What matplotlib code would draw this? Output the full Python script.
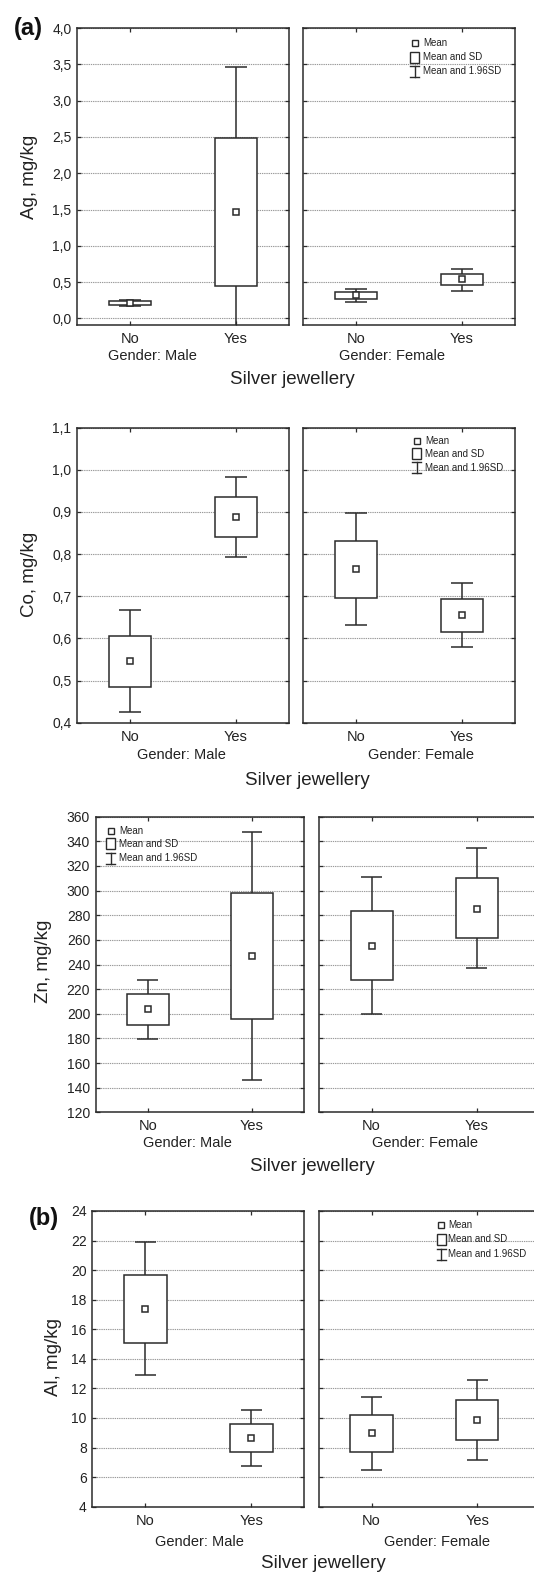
import matplotlib
matplotlib.use('Agg')
import matplotlib.pyplot as plt
from matplotlib.patches import Rectangle

plt.rcParams['font.family'] = ['Liberation Sans', 'DejaVu Sans']

W, H, DPI = 534, 1572, 100

groups = ['No', 'Yes']
genders = ['Gender: Male', 'Gender: Female']
xlabel = 'Silver jewellery'
legend_labels = ['Mean', 'Mean and SD', 'Mean and 1.96SD']

# ---- Ag, mg/kg  (rows: Male, Female; cols: No, Yes)
ag_mean = [[0.216, 1.463], [0.317, 0.537]]
ag_sd_lo = [[0.183, 0.445], [0.271, 0.454]]
ag_sd_hi = [[0.243, 2.486], [0.367, 0.606]]
ag_ci_lo = [[0.170, -0.54], [0.225, 0.381]]
ag_ci_hi = [[0.260, 3.463], [0.408, 0.683]]
ag_ticks = [0.0, 0.5, 1.0, 1.5, 2.0, 2.5, 3.0, 3.5, 4.0]
ag_ticklabels = ['0,0', '0,5', '1,0', '1,5', '2,0', '2,5', '3,0', '3,5', '4,0']

# ---- Co, mg/kg
co_mean = [[0.546, 0.887], [0.765, 0.655]]
co_sd_lo = [[0.485, 0.840], [0.697, 0.616]]
co_sd_hi = [[0.606, 0.936], [0.832, 0.693]]
co_ci_lo = [[0.425, 0.794], [0.631, 0.579]]
co_ci_hi = [[0.667, 0.983], [0.898, 0.731]]
co_ticks = [0.4, 0.5, 0.6, 0.7, 0.8, 0.9, 1.0, 1.1]
co_ticklabels = ['0,4', '0,5', '0,6', '0,7', '0,8', '0,9', '1,0', '1,1']

# ---- Zn, mg/kg
zn_mean = [[203.9, 247.2], [255.0, 285.3]]
zn_sd_lo = [[190.9, 195.8], [227.2, 261.2]]
zn_sd_hi = [[215.8, 298.3], [283.7, 310.5]]
zn_ci_lo = [[179.3, 146.3], [199.8, 237.4]]
zn_ci_hi = [[227.7, 347.8], [311.0, 334.3]]
zn_ticks = [120, 140, 160, 180, 200, 220, 240, 260, 280, 300, 320, 340, 360]
zn_ticklabels = [str(t) for t in zn_ticks]

# ---- Al, mg/kg
al_mean = [[17.39, 8.62], [8.98, 9.88]]
al_sd_lo = [[15.09, 7.68], [7.68, 8.49]]
al_sd_hi = [[19.69, 9.62], [10.18, 11.24]]
al_ci_lo = [[12.88, 6.75], [6.48, 7.13]]
al_ci_hi = [[21.93, 10.56], [11.40, 12.59]]
al_ticks = [4, 6, 8, 10, 12, 14, 16, 18, 20, 22, 24]
al_ticklabels = [str(t) for t in al_ticks]

EC = '#2b2b2b'
TC = '#222222'

fig = plt.figure(figsize=(W / DPI, H / DPI), dpi=DPI)
fig.patch.set_facecolor('white')


def add_ax(l, t, r, b):
    return fig.add_axes([l / W, 1 - b / H, (r - l) / W, (b - t) / H])


def fx(x):
    return x / W


def fy(y):
    return 1 - y / H


panels = [
    dict(name='Ag, mg/kg', mean=ag_mean, sdl=ag_sd_lo, sdh=ag_sd_hi, cil=ag_ci_lo, cih=ag_ci_hi,
         ticks=ag_ticks, tl=ag_ticklabels, ylim=(-0.09, 4.0),
         boxes=[(77, 28, 289, 325), (303, 28, 515, 325)], cut=False,
         leg=(1, 0.528, 0.566, [0.950, 0.902, 0.855]),
         ylab=(30, 177), gl=[(152.5, 356), (391.7, 356)], xl=(292, 380)),
    dict(name='Co, mg/kg', mean=co_mean, sdl=co_sd_lo, sdh=co_sd_hi, cil=co_ci_lo, cih=co_ci_hi,
         ticks=co_ticks, tl=co_ticklabels, ylim=(0.4, 1.1),
         boxes=[(77, 427.7, 289, 722.7), (303, 427.7, 515, 722.7)], cut=False,
         leg=(1, 0.536, 0.576, [0.955, 0.911, 0.865]),
         ylab=(30, 574), gl=[(181.7, 755), (420.8, 755)], xl=(307, 780)),
    dict(name='Zn, mg/kg', mean=zn_mean, sdl=zn_sd_lo, sdh=zn_sd_hi, cil=zn_ci_lo, cih=zn_ci_hi,
         ticks=zn_ticks, tl=zn_ticklabels, ylim=(120, 360),
         boxes=[(95.7, 816.7, 304, 1112.3), (319, 816.7, 529, 1112.3)], cut=True,
         leg=(0, 0.073, 0.111, [0.952, 0.908, 0.860]),
         ylab=(43, 961), gl=[(187.5, 1142.7), (425, 1142.7)], xl=(312, 1166.7)),
    dict(name='Al, mg/kg', mean=al_mean, sdl=al_sd_lo, sdh=al_sd_hi, cil=al_ci_lo, cih=al_ci_hi,
         ticks=al_ticks, tl=al_ticklabels, ylim=(4, 24),
         boxes=[(92.3, 1211, 304.3, 1506.7), (318.7, 1211, 530, 1506.7)], cut=True,
         leg=(1, 0.579, 0.614, [0.953, 0.904, 0.853]),
         ylab=(53, 1357), gl=[(199, 1541.7), (436.5, 1541.7)], xl=(323, 1563)),
]

for p in panels:
    for g in range(2):
        l, t, r, b = p['boxes'][g]
        xmax = 1.5
        if g == 1 and p['cut']:
            # the source figure is cropped at the right edge: extend the panel past it
            unit = (r - l) / 2.0
            xmax = 1.5 + (W + 6 - r) / unit
            r = W + 6
        ax = add_ax(l, t, r, b)
        ax.set_xlim(-0.5, xmax)
        ax.set_ylim(*p['ylim'])
        ax.set_yticks(p['ticks'])
        if g == 0:
            ax.set_yticklabels(p['tl'], fontsize=10, color=TC)
        else:
            ax.set_yticklabels([])
        ax.set_xticks([0, 1])
        ax.set_xticklabels(groups, fontsize=10.5, color=TC)
        ax.tick_params(axis='both', direction='in', length=3, width=0.9, color=EC,
                       top=True, right=True)
        ax.tick_params(axis='x', pad=5)
        ax.tick_params(axis='y', pad=4)
        ax.yaxis.grid(True, color='#9a9a9a', linestyle=(0, (1.2, 0.8)), linewidth=0.8, zorder=0)
        ax.set_axisbelow(True)
        for s in ax.spines.values():
            s.set_color(EC)
            s.set_linewidth(1.1)
        for i in range(2):
            m = p['mean'][g][i]
            lo, hi = p['sdl'][g][i], p['sdh'][g][i]
            cl, ch = p['cil'][g][i], p['cih'][g][i]
            ax.vlines(i, hi, ch, color=EC, lw=1.1, zorder=2)
            ax.vlines(i, cl, lo, color=EC, lw=1.1, zorder=2)
            ax.hlines([cl, ch], i - 0.1, i + 0.1, color=EC, lw=1.1, zorder=2)
            ax.add_patch(Rectangle((i - 0.2, lo), 0.4, hi - lo, facecolor='white',
                                   edgecolor=EC, lw=1.1, zorder=3))
            ax.plot([i], [m], 's', ms=4.5, mfc='white', mec=EC, mew=1.1, zorder=4)
        # legend
        lg, mx, tx, ys = p['leg']
        if lg == g:
            axw, axh = r - l, b - t
            if g == 1 and p['cut']:
                scale = (r - l) / (p['boxes'][g][2] - l)
                mx, tx = mx / scale, tx / scale
            ax.plot([mx], [ys[0]], 's', ms=4.5, mfc='white', mec=EC, mew=1.0,
                    transform=ax.transAxes, clip_on=False, zorder=5)
            bw, bh = 9 / axw, 11 / axh
            ax.add_patch(Rectangle((mx - bw / 2, ys[1] - bh / 2), bw, bh, facecolor='white',
                                   edgecolor=EC, lw=1.0, transform=ax.transAxes, zorder=5))
            ax.plot([mx, mx], [ys[2] - bh / 2, ys[2] + bh / 2], color=EC, lw=1.0,
                    transform=ax.transAxes, zorder=5)
            for yy in (ys[2] - bh / 2, ys[2] + bh / 2):
                ax.plot([mx - bw / 2, mx + bw / 2], [yy, yy], color=EC, lw=1.0,
                        transform=ax.transAxes, zorder=5)
            for k in range(3):
                ax.text(tx, ys[k], legend_labels[k], transform=ax.transAxes, fontsize=7,
                        va='center', ha='left', color=TC, zorder=6)
        gx, gy = p['gl'][g]
        fig.text(fx(gx), fy(gy), genders[g], ha='center', va='center', fontsize=10.5, color=TC)
    fig.text(fx(p['ylab'][0]), fy(p['ylab'][1]), p['name'], rotation=90,
             ha='center', va='center', fontsize=13.5, color=TC)
    fig.text(fx(p['xl'][0]), fy(p['xl'][1]), xlabel, ha='center', va='center',
             fontsize=13.5, color=TC)

fig.text(fx(28), fy(29), '(a)', ha='center', va='center', fontsize=17, fontweight='bold', color='#111')
fig.text(fx(43.5), fy(1218), '(b)', ha='center', va='center', fontsize=17, fontweight='bold', color='#111')

fig.savefig('out.png', dpi=DPI)
